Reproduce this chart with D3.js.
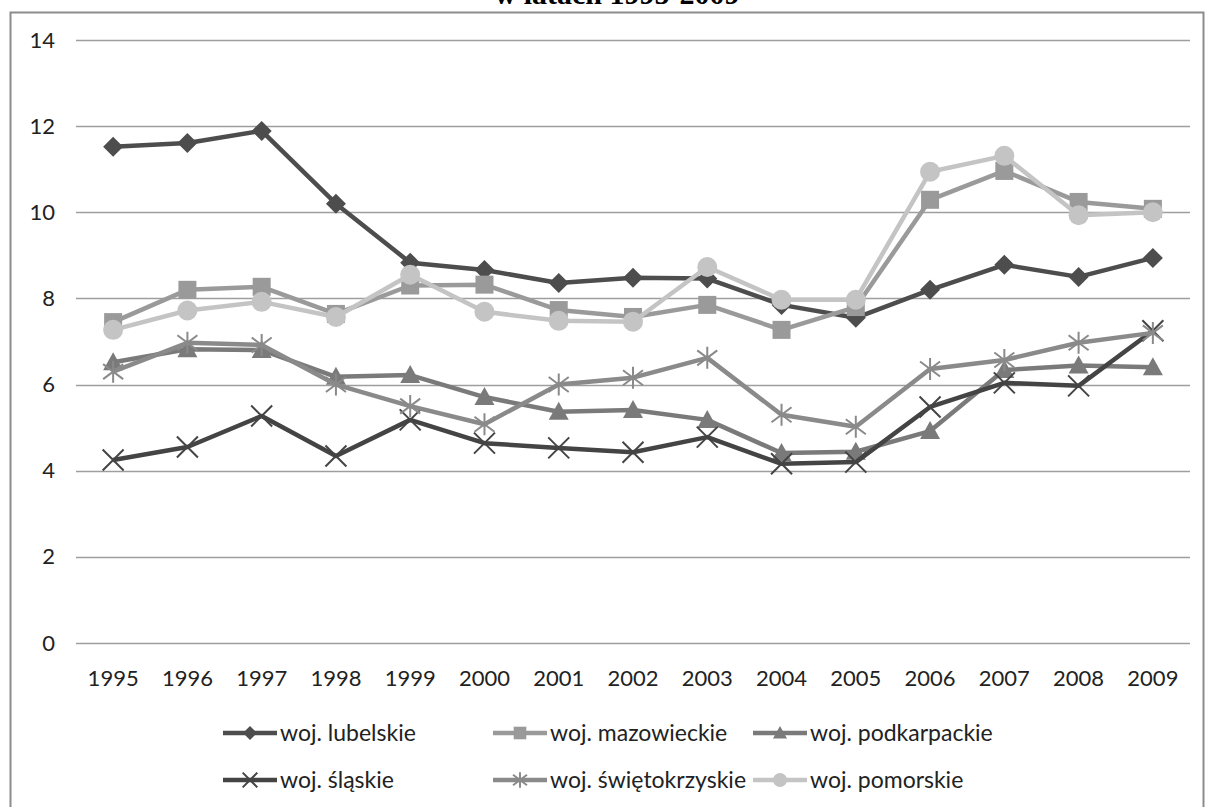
<!DOCTYPE html>
<html>
<head>
<meta charset="utf-8">
<script src="https://cdn.jsdelivr.net/npm/d3@7"></script>
<style>
  html, body { margin: 0; padding: 0; background: #fff; }
  svg { display: block; }
</style>
</head>
<body>
<svg id="chart" width="1206" height="807"></svg>
<script>
// Years on the category axis
const years = ["1995","1996","1997","1998","1999","2000","2001","2002","2003","2004","2005","2006","2007","2008","2009"];

// Series values per voivodeship
const lubelskie      = [11.52, 11.61, 11.89, 10.20, 8.83, 8.66, 8.36, 8.48, 8.46, 7.85, 7.55, 8.20, 8.78, 8.50, 8.94];
const mazowieckie    = [7.45, 8.20, 8.27, 7.64, 8.30, 8.32, 7.73, 7.57, 7.85, 7.27, 7.80, 10.29, 10.96, 10.24, 10.08];
const podkarpackie   = [6.52, 6.82, 6.80, 6.18, 6.22, 5.71, 5.37, 5.41, 5.18, 4.41, 4.44, 4.92, 6.34, 6.44, 6.40];
const slaskie        = [4.25, 4.55, 5.27, 4.34, 5.18, 4.64, 4.53, 4.43, 4.78, 4.16, 4.20, 5.48, 6.04, 5.97, 7.25];
const swietokrzyskie = [6.30, 6.97, 6.92, 6.00, 5.50, 5.08, 6.00, 6.16, 6.62, 5.30, 5.02, 6.36, 6.57, 6.97, 7.20];
const pomorskie      = [7.27, 7.72, 7.92, 7.57, 8.55, 7.69, 7.48, 7.46, 8.73, 7.97, 7.97, 10.94, 11.31, 9.93, 10.00];

const seriesNames = ["woj. lubelskie", "woj. mazowieckie", "woj. podkarpackie", "woj. śląskie", "woj. świętokrzyskie", "woj. pomorskie"];
const yTicks = [0, 2, 4, 6, 8, 10, 12, 14];
const titleText = "w latach 1995-2009";

const series = [
  { name: seriesNames[0], values: lubelskie,      color: "#4d4d4d", marker: "diamond" },
  { name: seriesNames[1], values: mazowieckie,    color: "#9a9a9a", marker: "square" },
  { name: seriesNames[2], values: podkarpackie,   color: "#7a7a7a", marker: "triangle" },
  { name: seriesNames[3], values: slaskie,        color: "#444444", marker: "x" },
  { name: seriesNames[4], values: swietokrzyskie, color: "#8a8a8a", marker: "star" },
  { name: seriesNames[5], values: pomorskie,      color: "#c4c4c4", marker: "circle" }
];

const svg = d3.select("#chart");
const font = "Lato, 'Open Sans', sans-serif";

// Chart frame
svg.append("rect")
  .attr("x", 10.5).attr("y", 12.5)
  .attr("width", 1193).attr("height", 810)
  .attr("fill", "none").attr("stroke", "#8c8c8c").attr("stroke-width", 2);

// Title (runs above the top edge of the page)
svg.append("text")
  .attr("x", 617).attr("y", 4)
  .attr("text-anchor", "middle")
  .attr("font-family", "'Liberation Serif', 'Times New Roman', serif")
  .attr("font-weight", "bold")
  .attr("font-size", 30)
  .attr("fill", "#000")
  .text(titleText);

const plot = { left: 76, right: 1190, top: 40, bottom: 643 };

const x = d3.scaleBand().domain(years).range([plot.left, plot.right]);
const y = d3.scaleLinear().domain([0, 14]).range([plot.bottom, plot.top]);

// Horizontal gridlines
svg.append("g")
  .selectAll("line")
  .data(yTicks)
  .join("line")
  .attr("x1", plot.left).attr("x2", plot.right)
  .attr("y1", d => Math.round(y(d)) + 0.5).attr("y2", d => Math.round(y(d)) + 0.5)
  .attr("stroke", "#9e9e9e").attr("stroke-width", 1.3);

// Y axis labels
const yAxis = d3.axisLeft(y).tickValues(yTicks).tickSize(0).tickPadding(0);
svg.append("g")
  .attr("transform", "translate(55,0)")
  .call(yAxis)
  .call(g => g.select(".domain").remove())
  .call(g => g.selectAll("text")
    .attr("font-family", font).attr("font-size", 22).attr("fill", "#222"));

// X axis labels
const xAxis = d3.axisBottom(x).tickSize(0).tickPadding(0);
svg.append("g")
  .attr("transform", `translate(0,${plot.bottom + 43})`)
  .call(xAxis)
  .call(g => g.select(".domain").remove())
  .call(g => g.selectAll("text")
    .attr("font-family", font).attr("font-size", 22).attr("fill", "#222").attr("dy", "0"));

// Marker drawing
function drawMarker(g, type, color, s) {
  if (type === "diamond") {
    g.append("path").attr("d", `M0,${-s}L${s},0L0,${s}L${-s},0Z`).attr("fill", color);
  } else if (type === "square") {
    const h = s * 0.9;
    g.append("rect").attr("x", -h).attr("y", -h).attr("width", 2 * h).attr("height", 2 * h).attr("fill", color);
  } else if (type === "triangle") {
    g.append("path").attr("d", `M0,${-s}L${s},${s * 0.8}L${-s},${s * 0.8}Z`).attr("fill", color);
  } else if (type === "circle") {
    g.append("circle").attr("r", s).attr("fill", color);
  } else if (type === "x") {
    const a = s * 1.05;
    g.append("path").attr("d", `M${-a},${-a}L${a},${a}M${-a},${a}L${a},${-a}`)
      .attr("stroke", color).attr("stroke-width", 2).attr("fill", "none");
  } else if (type === "star") {
    const a = s * 1.0;
    g.append("path").attr("d", `M${-a},${-a * 0.75}L${a},${a * 0.75}M${-a},${a * 0.75}L${a},${-a * 0.75}M0,${-a * 1.1}L0,${a * 1.1}`)
      .attr("stroke", color).attr("stroke-width", 2).attr("fill", "none");
  }
}

const cx = d => x(d) + x.bandwidth() / 2;
const line = d3.line()
  .x((d, i) => cx(years[i]))
  .y(d => y(d));

// Series lines and markers, drawn in order
series.forEach(s => {
  const g = svg.append("g");
  g.append("path")
    .attr("d", line(s.values))
    .attr("fill", "none")
    .attr("stroke", s.color)
    .attr("stroke-width", 4.5)
    .attr("stroke-linejoin", "round");
  s.values.forEach((v, i) => {
    const m = g.append("g").attr("transform", `translate(${cx(years[i])},${y(v)})`);
    drawMarker(m, s.marker, s.color, 10);
  });
});

// Legend
const legendPos = [
  { lx: 223, ly: 733 }, { lx: 493, ly: 733 }, { lx: 753, ly: 733 },
  { lx: 223, ly: 780 }, { lx: 493, ly: 780 }, { lx: 753, ly: 780 }
];
series.forEach((s, i) => {
  const p = legendPos[i];
  const g = svg.append("g").attr("transform", `translate(${p.lx},${p.ly})`);
  g.append("line").attr("x1", 0).attr("x2", 54).attr("y1", 0).attr("y2", 0)
    .attr("stroke", s.color).attr("stroke-width", 4.5);
  const m = g.append("g").attr("transform", "translate(27,0)");
  drawMarker(m, s.marker, s.color, 7);
  g.append("text")
    .attr("x", 57).attr("y", 0).attr("dy", "0.35em")
    .attr("font-family", font).attr("font-size", 23).attr("fill", "#222")
    .text(s.name);
});
</script>
</body>
</html>
